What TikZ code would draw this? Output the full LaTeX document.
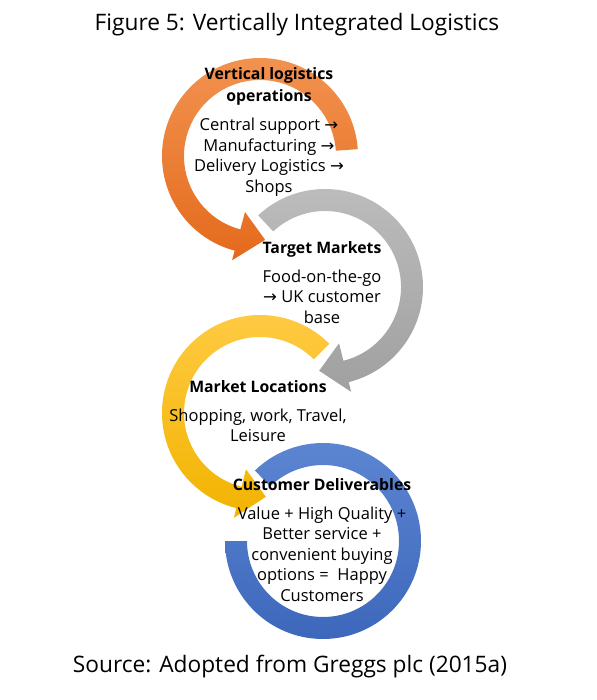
\documentclass[tikz,border=0pt]{standalone}
\usepackage{fontspec}
\setmainfont{Open Sans}
\newfontfamily\arrowfont{DejaVu Sans}
\usetikzlibrary{calc}
\newcommand{\ra}{{\arrowfont →}}
\newcommand{\hd}[1]{{\fontsize{15.8}{20.5}\selectfont\bfseries #1}}
\newcommand{\ringarrow}[7]{%
  \shade[top color=#1,bottom color=#2]
    ($(#3)+(#4:98)$) arc[start angle=#4,end angle=#5,radius=98]
    -- ($(#3)+(#5:108)$) -- ($(#3)+(#6:84)$) -- ($(#3)+(#5:58)$)
    -- ($(#3)+(#5:76)$) arc[start angle=#5,end angle=#4,radius=76] -- cycle;}
\definecolor{orangetop}{HTML}{F29350}
\definecolor{orangebot}{HTML}{E46A1C}
\definecolor{graytop}{HTML}{BDBDBD}
\definecolor{graybot}{HTML}{A0A0A0}
\definecolor{yellowtop}{HTML}{FFCB45}
\definecolor{yellowbot}{HTML}{F2B300}
\definecolor{bluetop}{HTML}{5D86D2}
\definecolor{bluebot}{HTML}{3C66BA}
\begin{document}
\begin{tikzpicture}[
		x=1pt,y=1pt,
		caption/.style={font=\fontsize{22.7}{27}\selectfont,anchor=base,inner sep=0},
		steptext/.style={align=center,anchor=base,inner sep=0,
			font=\fontsize{16.5}{20.5}\selectfont}
		]
		\useasboundingbox (0,0) rectangle (596,-700);
		\coordinate (oc) at (260,-156);
		\coordinate (gc) at (325,-287);
		\coordinate (yc) at (260,-413);
		\coordinate (bc) at (323,-541);
		\shade[top color=bluetop,bottom color=bluebot]
			($(bc)+(134:98)$) arc[start angle=134,end angle=-180,radius=98]
			-- ($(bc)+(-180:76)$) arc[start angle=-180,end angle=134,radius=76] -- cycle;
		\ringarrow{yellowtop}{yellowbot}{yc}{45}{256}{274}{}
		\ringarrow{graytop}{graybot}{gc}{133}{-76}{-94}{}
		\ringarrow{orangetop}{orangebot}{oc}{4}{255}{273.5}{}
		\node[caption] (title) at (297,-31) {Figure 5: Vertically Integrated Logistics};
		\node[steptext] (ops) at (269,-192.5)
			{\hd{Vertical logistics}\\[1.5pt]\hd{operations}\\[8.5pt]
			Central support \ra\\Manufacturing \ra\\Delivery Logistics \ra\\Shops};
		\node[steptext] (markets) at (322,-323)
			{\hd{Target Markets}\\[8.5pt]Food-on-the-go\\\ra{} UK customer\\base};
		\node[steptext] (locations) at (258,-441.5)
			{\hd{Market Locations}\\[8.5pt]Shopping, work, Travel,\\Leisure};
		\node[steptext] (deliver) at (322,-601)
			{\hd{Customer Deliverables}\\[8.5pt]Value + High Quality +\\Better service +\\
			convenient buying\\options = \ Happy\\Customers};
		\node[caption] (source) at (290,-672) {Source: Adopted from Greggs plc (2015a)};
	\end{tikzpicture}
\end{document}
